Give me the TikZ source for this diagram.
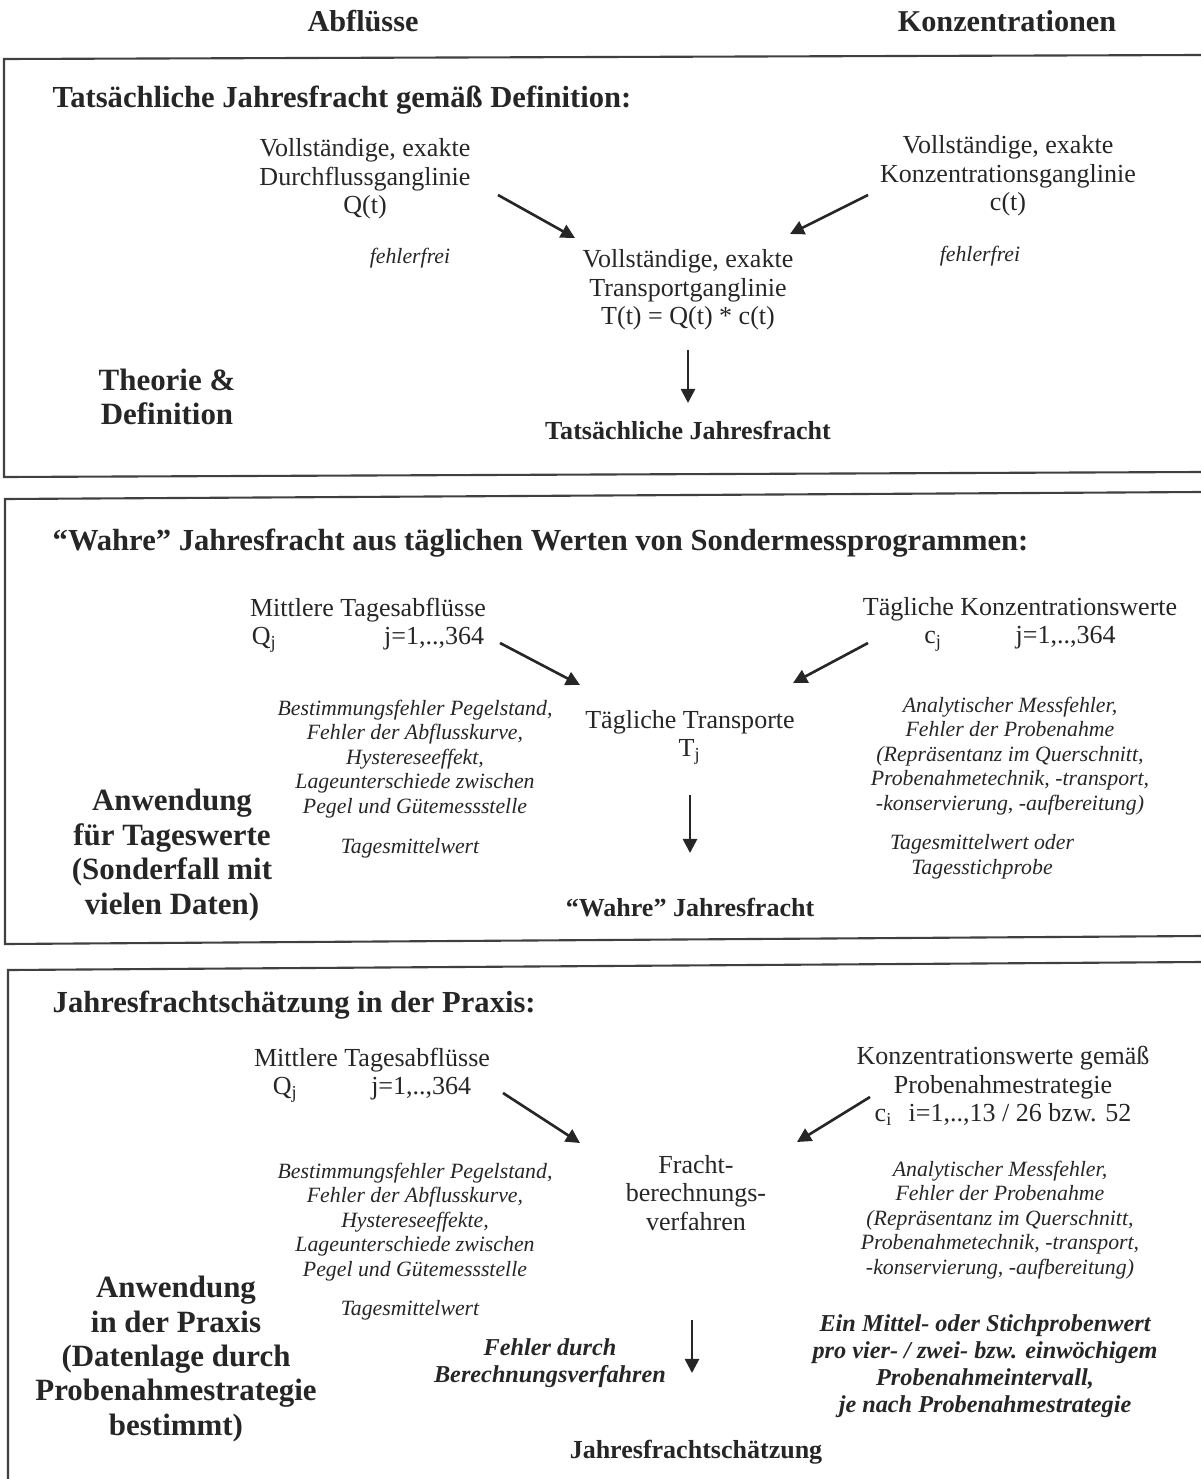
\documentclass[tikz,border=0pt]{standalone}
\usepackage{fontspec}
\setmainfont{Liberation Serif}
\usetikzlibrary{arrows.meta, positioning}
\tikzset{
    scheme/.style={x=0.01cm, y=-0.01cm, >={Triangle[length=4pt,width=4pt]}, text=black!85},
    frame/.style={draw=black!75, line width=0.6pt},
    flow/.style={->, draw=black!85, line width=0.75pt},
    txt/.style={align=center, inner sep=0pt, font=\fontsize{7.4}{8.1}\selectfont},
    err/.style={align=center, inner sep=0pt, font=\fontsize{6.2}{7}\selectfont\itshape},
    head/.style={anchor=west, inner sep=0pt, font=\fontsize{8.7}{10}\selectfont\bfseries},
    colhead/.style={inner sep=0pt, font=\fontsize{8.6}{10}\selectfont\bfseries},
    usecase/.style={align=center, inner sep=0pt, font=\fontsize{8.8}{9.8}\selectfont\bfseries},
    result/.style={inner sep=0pt, font=\fontsize{7.4}{9}\selectfont\bfseries},
    note/.style={align=center, inner sep=0pt, font=\fontsize{6.9}{7.7}\selectfont\bfseries\itshape},
}

\begin{document}
\begin{tikzpicture}[scheme]
    \useasboundingbox (0,0) rectangle (1201,1479);

    % column headings
    \node[colhead] (abfl) at (363,21)  {Abflüsse};
    \node[colhead] (konz) at (1007,21) {Konzentrationen};

    % frames (scanned, slightly skewed)
    \draw[frame] (1201,55)  -- (4,59)  -- (4,477)  -- (1201,472);
    \draw[frame] (1201,492) -- (5,499) -- (5,944)  -- (1201,936);
    \draw[frame] (1201,962) -- (8,970) -- (8,1479);

    % --- Theorie & Definition
    \node[head]    (title1) at (52,100)  {Tatsächliche Jahresfracht gemäß Definition:};
    \node[txt]     (qt)     at (365,179) {Vollständige, exakte\\Durchflussganglinie\\Q(t)};
    \node[txt]     (ct)     at (1008,176) {Vollständige, exakte\\Konzentrationsganglinie\\c(t)};
    \node[err]     (fq1)    at (410,258) {fehlerfrei};
    \node[err]     (fc1)    at (980,256) {fehlerfrei};
    \node[txt]     (tt)     at (688,290) {Vollständige, exakte\\Transportganglinie\\T(t) = Q(t) * c(t)};
    \node[usecase] (use1)   at (167,397) {Theorie \&\\Definition};
    \node[result]  (res1)   at (688,430) {Tatsächliche Jahresfracht};

    \draw[flow] ([shift={(133,16)}]qt.center) -- ([shift={(-113,-52)}]tt.center);
    \draw[flow] ([shift={(-140,19)}]ct.center) -- ([shift={(102,-56)}]tt.center);
    \draw[flow] ([shift={(0,60)}]tt.center) -- ([shift={(0,-27)}]res1.center);

    % --- Tageswerte
    \node[head]    (title2) at (52,543)  {“Wahre” Jahresfracht aus täglichen Werten von Sondermessprogrammen:};
    \node[txt]     (qj)     at (368,625) {Mittlere Tagesabflüsse\\Q\textsubscript{j}\hspace{4.1em}j=1,..,364};
    \node[txt]     (cj)     at (1020,624) {Tägliche Konzentrationswerte\\c\textsubscript{j}\hspace{2.8em}j=1,..,364};
    \node[txt]     (tj)     at (690,737) {Tägliche Transporte\\T\textsubscript{j}};
    \node[err]     (fq2)    at (415,759) {Bestimmungsfehler Pegelstand,\\Fehler der Abflusskurve,\\Hystereseeffekt,\\Lageunterschiede zwischen\\Pegel und Gütemessstelle};
    \node[err]     (mq2)    at (410,848) {Tagesmittelwert};
    \node[err]     (fc2)    at (1010,756) {Analytischer Messfehler,\\Fehler der Probenahme\\(Repräsentanz im Querschnitt,\\Probenahmetechnik, -transport,\\-konservierung, -aufbereitung)};
    \node[err]     (mc2)    at (982,857) {Tagesmittelwert oder\\Tagesstichprobe};
    \node[usecase] (use2)   at (172,855) {Anwendung\\für Tageswerte\\(Sonderfall mit\\vielen Daten)};
    \node[result]  (res2)   at (690,908) {“Wahre” Jahresfracht};

    \draw[flow] ([shift={(132,18)}]qj.center) -- ([shift={(-110,-52)}]tj.center);
    \draw[flow] ([shift={(-152,19)}]cj.center) -- ([shift={(103,-54)}]tj.center);
    \draw[flow] ([shift={(0,58)}]tj.center) -- ([shift={(0,-55)}]res2.center);

    % --- Praxis
    \node[head]    (title3) at (52,1005) {Jahresfrachtschätzung in der Praxis:};
    \node[txt]     (qj3)    at (372,1075) {Mittlere Tagesabflüsse\\Q\textsubscript{j}\hspace{2.8em}j=1,..,364};
    \node[txt]     (ci)     at (1003,1086) {Konzentrationswerte gemäß\\Probenahmestrategie\\c\textsubscript{i}\hspace{0.6em}i=1,..,13 / 26 bzw. 52};
    \node[txt]     (calc)   at (696,1193) {Fracht-\\berechnungs-\\verfahren};
    \node[err]     (fq3)    at (415,1222) {Bestimmungsfehler Pegelstand,\\Fehler der Abflusskurve,\\Hystereseeffekte,\\Lageunterschiede zwischen\\Pegel und Gütemessstelle};
    \node[err]     (mq3)    at (410,1310) {Tagesmittelwert};
    \node[err]     (fc3)    at (1000,1220) {Analytischer Messfehler,\\Fehler der Probenahme\\(Repräsentanz im Querschnitt,\\Probenahmetechnik, -transport,\\-konservierung, -aufbereitung)};
    \node[note]    (strat)  at (985,1366) {Ein Mittel- oder Stichprobenwert\\pro vier- / zwei- bzw. einwöchigem\\Probenahmeintervall,\\je nach Probenahmestrategie};
    \node[note]    (meth)   at (550,1363) {Fehler durch\\Berechnungsverfahren};
    \node[usecase] (use3)   at (176,1359) {Anwendung\\in der Praxis\\(Datenlage durch\\Probenahmestrategie\\bestimmt)};
    \node[result]  (res3)   at (696,1452) {Jahresfrachtschätzung};

    \draw[flow] ([shift={(131,18)}]qj3.center) -- ([shift={(-116,-50)}]calc.center);
    \draw[flow] ([shift={(-133,11)}]ci.center) -- ([shift={(101,-51)}]calc.center);
    \draw[flow] ([shift={(-4,127)}]calc.center) -- ([shift={(-4,-79)}]res3.center);
\end{tikzpicture}
\end{document}
